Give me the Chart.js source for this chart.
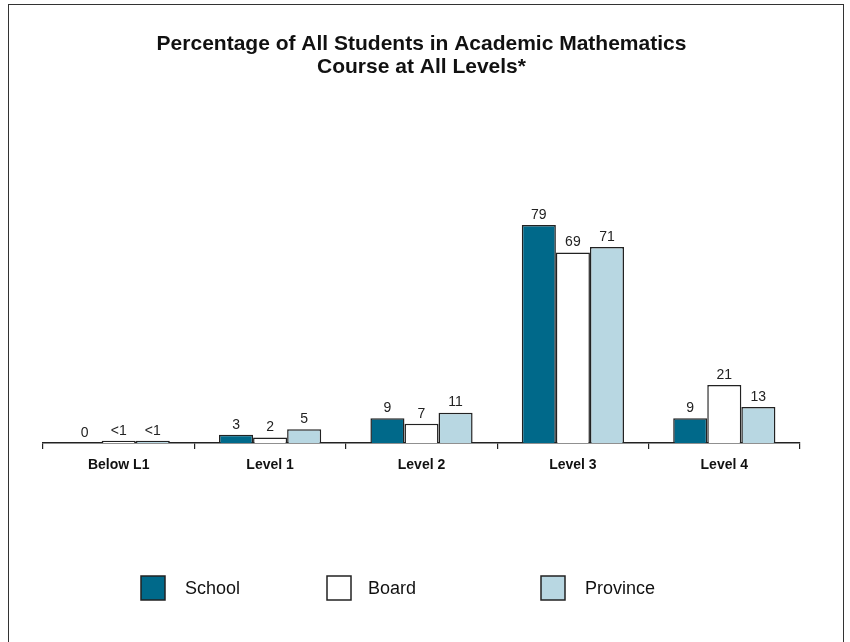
<!DOCTYPE html>
<html>
<head>
<meta charset="utf-8">
<script src="https://cdn.jsdelivr.net/npm/chart.js@4"></script>
<style>
    html,body{ margin:0; padding:0; background:#fff; overflow:hidden; }
    #wrap{ position:relative; width:850px; height:642px; }
    #frame{ position:absolute; left:8px; top:4px; width:836px; height:700px; border:1.5px solid #333; box-sizing:border-box; pointer-events:none; }
    canvas{ position:absolute; left:0; top:0; }
</style>
</head>
<body>
<div id="wrap">
    <canvas id="chart" width="850" height="642"></canvas>
    <div id="frame"></div>
</div>
<script>
// data
const categories = ['Below L1', 'Level 1', 'Level 2', 'Level 3', 'Level 4'];
const schoolValues = [0, 3, 9, 79, 9];
const boardValues = [0.8, 2, 7, 69, 21];      // "<1" shown for values under 1
const provinceValues = [0.8, 5, 11, 71, 13];
const seriesNames = ['School', 'Board', 'Province'];
const seriesColors = ['#00698A', '#FFFFFF', '#B8D7E2'];
const titleLines = ['Percentage of All Students in Academic Mathematics', 'Course at All Levels*'];

const FONT = '"Liberation Sans", Arial, Helvetica, sans-serif';

function fmt(v){ return (v > 0 && v < 1) ? '<1' : String(v); }

// value labels over each bar
const valueLabels = {
    id: 'valueLabels',
    afterDatasetsDraw(chart){
        const ctx = chart.ctx;
        ctx.save();
        ctx.font = `14px ${FONT}`;
        ctx.fillStyle = '#222';
        ctx.textAlign = 'center';
        ctx.textBaseline = 'bottom';
        chart.data.datasets.forEach((ds, i) => {
            chart.getDatasetMeta(i).data.forEach((bar, j) => {
                ctx.fillText(fmt(ds.data[j]), bar.x, bar.y - 3);
            });
        });
        ctx.restore();
    }
};

// legend laid out like the original (uneven spacing)
const legendSpots = [{ box: 141, text: 185 }, { box: 327, text: 368 }, { box: 541, text: 585 }];
const boxLegend = {
    id: 'boxLegend',
    afterDraw(chart){
        const ctx = chart.ctx;
        ctx.save();
        ctx.font = `18px ${FONT}`;
        ctx.textBaseline = 'middle';
        chart.data.datasets.forEach((ds, i) => {
            const s = legendSpots[i];
            ctx.fillStyle = ds.backgroundColor;
            ctx.fillRect(s.box, 576, 24, 24);
            ctx.strokeStyle = '#222';
            ctx.lineWidth = 1.5;
            ctx.strokeRect(s.box, 576, 24, 24);
            ctx.fillStyle = '#111';
            ctx.fillText(ds.label, s.text, 589);
        });
        ctx.restore();
    }
};

const allSeries = [schoolValues, boardValues, provinceValues];

new Chart(document.getElementById('chart'), {
    type: 'bar',
    data: {
        labels: categories,
        datasets: allSeries.map((vals, i) => ({
            label: seriesNames[i],
            data: vals,
            backgroundColor: seriesColors[i],
            borderColor: '#222',
            borderWidth: 1.5,
            categoryPercentage: 0.675,
            barPercentage: 1
        }))
    },
    options: {
        responsive: false,
        animation: false,
        layout: { padding: { left: 43, right: 50, bottom: 159 } },
        plugins: {
            legend: { display: false },
            tooltip: { enabled: false },
            title: {
                display: true,
                text: titleLines,
                color: '#111',
                font: { family: FONT, size: 21, weight: 'bold', lineHeight: 1.1 },
                padding: { top: 32.5, bottom: 88.3 }
            }
        },
        scales: {
            x: {
                afterFit: (scale) => { scale.height = 40; },
                border: { display: true, color: '#222', width: 1.5 },
                grid: { display: true, offset: true, drawOnChartArea: false, drawTicks: true, tickLength: 6, color: '#222', lineWidth: 1.2 },
                ticks: { color: '#111', padding: 8, font: { family: FONT, size: 14, weight: 'bold' } }
            },
            y: {
                display: false,
                min: 0,
                max: 100
            }
        }
    },
    plugins: [valueLabels, boxLegend]
});
</script>
</body>
</html>
